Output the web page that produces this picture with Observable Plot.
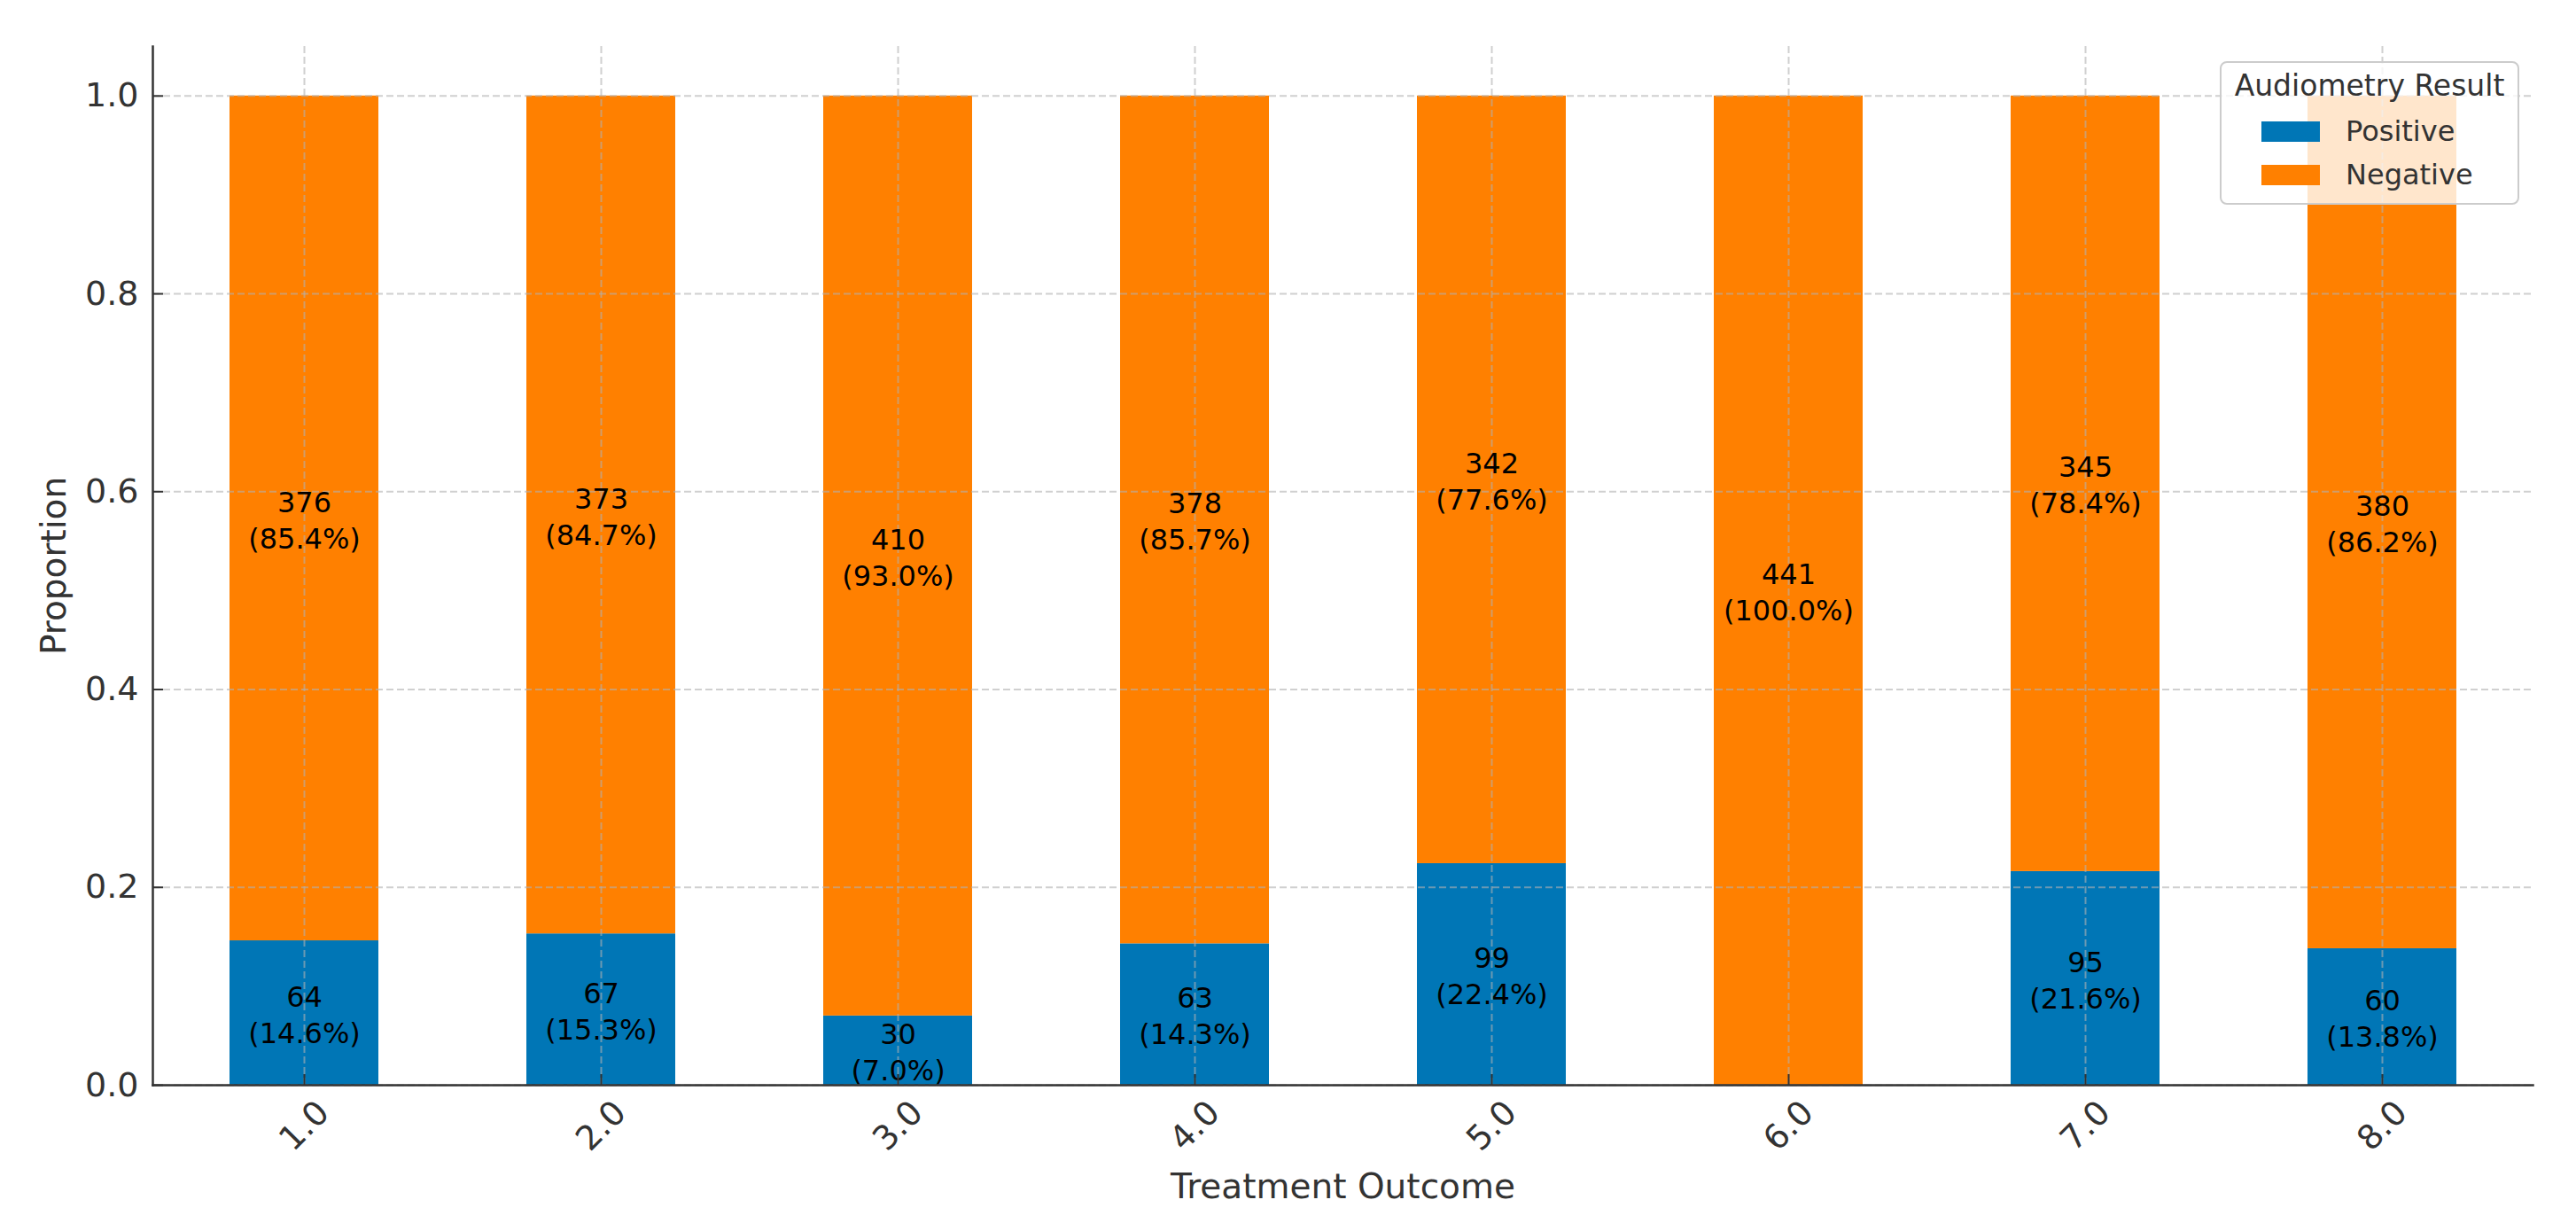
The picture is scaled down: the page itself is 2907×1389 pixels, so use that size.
<!DOCTYPE html>
<html>
<head>
<meta charset="utf-8">
<script src="https://cdn.jsdelivr.net/npm/d3@7"></script>
<script src="https://cdn.jsdelivr.net/npm/@observablehq/plot@0.6"></script>
<style>
  html, body { margin: 0; padding: 0; background: white; overflow: hidden; }
  #wrap { position: relative; width: 2907px; height: 1389px; }
  #legend { position: absolute; left: 0; top: 0; pointer-events: none; }
</style>
</head>
<body>
<div id="wrap"></div>
<script>
const outcomes = ["1.0", "2.0", "3.0", "4.0", "5.0", "6.0", "7.0", "8.0"];
const results = ["Positive", "Negative"];
const positiveCounts = [64, 67, 30, 63, 99, 0, 95, 60];
const negativeCounts = [376, 373, 410, 378, 342, 441, 345, 380];
const positivePct = [14.6, 15.3, 7.0, 14.3, 22.4, 0.0, 21.6, 13.8];
const negativePct = [85.4, 84.7, 93.0, 85.7, 77.6, 100.0, 78.4, 86.2];
const yTicks = [0, 0.2, 0.4, 0.6, 0.8, 1.0];
const colors = ["#0076b6", "#ff8000"];

const rows = [];
outcomes.forEach((o, i) => {
  rows.push({outcome: o, result: "Positive", count: positiveCounts[i], pct: positivePct[i], share: positivePct[i] / 100});
  rows.push({outcome: o, result: "Negative", count: negativeCounts[i], pct: negativePct[i], share: negativePct[i] / 100});
});

const gridStyle = {stroke: "#b0b0b0", strokeOpacity: 0.6, strokeDasharray: "8,4", strokeWidth: 2};

const chart = Plot.plot({
  width: 2907,
  height: 1389,
  marginLeft: 172,
  marginRight: 49,
  marginTop: 52,
  marginBottom: 165,
  style: {fontFamily: "DejaVu Sans", background: "white", color: "#333"},
  x: {domain: outcomes, paddingInner: 0.5, paddingOuter: 0.25, axis: null, label: null},
  y: {domain: [0, 1.05], axis: null, label: null},
  color: {domain: results, range: colors},
  marks: [
    Plot.barY(rows, Plot.stackY({x: "outcome", y: "share", fill: "result", order: results})),
    Plot.gridY(yTicks, gridStyle),
    Plot.gridX(outcomes, gridStyle),
    Plot.text(rows, Plot.stackY({
      x: "outcome", y: "share", z: "result", order: results,
      filter: d => d.count > 0,
      text: d => `${d.count}\n(${d.pct.toFixed(1)}%)`,
      fontSize: 32, lineHeight: 1.28, fill: "black"
    })),
    Plot.frame({anchor: "left", stroke: "#333", strokeWidth: 2.5}),
    Plot.frame({anchor: "bottom", stroke: "#333", strokeWidth: 2.5}),
    Plot.axisY(yTicks, {tickSize: 12, dx: 12, tickFormat: () => "", stroke: "#333", strokeWidth: 2, label: null}),
    Plot.axisY(yTicks, {tickSize: 0, tickPadding: 16, tickFormat: d3.format(".1f"), fontSize: 38, fill: "#333", label: null}),
    Plot.axisX(outcomes, {tickSize: 12, dy: -12, tickFormat: () => "", stroke: "#333", strokeWidth: 2, label: null}),
    Plot.axisX(outcomes, {tickSize: 0, tickPadding: 46, tickRotate: -45, textAnchor: "middle", lineAnchor: "middle", fontSize: 38, fill: "#333", label: null}),
    Plot.text(["Proportion"], {frameAnchor: "left", dx: -111, rotate: -90, textAnchor: "middle", lineAnchor: "middle", fontSize: 39, fill: "#333", text: d => d}),
    Plot.text(["Treatment Outcome"], {frameAnchor: "bottom", dy: 115, textAnchor: "middle", lineAnchor: "middle", fontSize: 39, fill: "#333", text: d => d})
  ]
});

const wrap = document.getElementById("wrap");
wrap.appendChild(chart);

// Legend overlay
const ns = "http://www.w3.org/2000/svg";
const leg = document.createElementNS(ns, "svg");
leg.setAttribute("id", "legend");
leg.setAttribute("width", 2907);
leg.setAttribute("height", 1389);
leg.style.fontFamily = "DejaVu Sans";
function el(tag, attrs, text) {
  const e = document.createElementNS(ns, tag);
  for (const k in attrs) e.setAttribute(k, attrs[k]);
  if (text != null) e.textContent = text;
  leg.appendChild(e);
  return e;
}
el("rect", {x: 2506, y: 70, width: 336, height: 160, rx: 7, fill: "white", "fill-opacity": 0.8, stroke: "#cccccc", "stroke-width": 2});
el("text", {x: 2674, y: 108, "text-anchor": "middle", "font-size": 33, fill: "#333"}, "Audiometry Result");
results.forEach((r, i) => {
  el("rect", {x: 2552, y: 137 + i * 49, width: 66, height: 23, fill: colors[i]});
  el("text", {x: 2647, y: 159 + i * 49, "font-size": 32, fill: "#333"}, r);
});
wrap.appendChild(leg);
</script>
</body>
</html>
